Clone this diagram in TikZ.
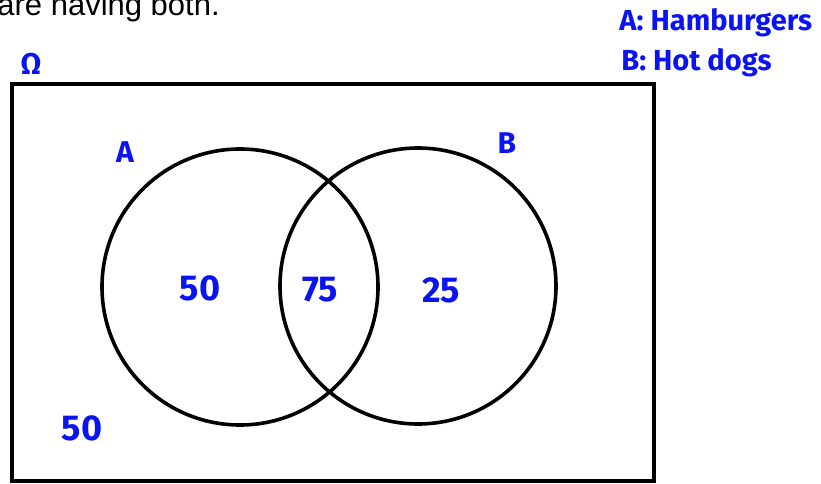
\documentclass[tikz,border=0pt]{standalone}
\usepackage{fontspec}
\setmainfont{Liberation Sans}
\newfontfamily\handfont{Fira Sans}
\usepackage{xcolor}
\definecolor{inkBlue}{HTML}{0A14F0}
\usetikzlibrary{positioning}
\tikzset{
    universe/.style={draw, line width=2pt, inner sep=0pt},
    setcirc/.style={circle, draw, line width=1.8pt, minimum size=138pt, inner sep=0pt},
    ink/.style={inkBlue, font=\handfont\bfseries\fontsize{15}{17}\selectfont, inner sep=0pt},
    bigink/.style={inkBlue, font=\handfont\bfseries\fontsize{18}{20}\selectfont, inner sep=0pt},
    legend/.style={inkBlue, font=\handfont\bfseries\fontsize{14.5}{16}\selectfont, inner sep=0pt, anchor=west},
}

\begin{document}
\begin{tikzpicture}[x=0.5pt, y=-0.5pt]
    \useasboundingbox (0,0) rectangle (821,483);
    \clip (0,0) rectangle (821,483);
    % question text cut off at the top
    \node[anchor=base west, inner sep=0pt, font=\fontsize{15.5}{18}\selectfont] (question) at (-3,15) {are having both.};
    % sample space
    \coordinate (omegaNW) at (12,84);
    \coordinate (omegaSE) at (654,481);
    \draw[universe] (omegaNW) rectangle (omegaSE);
    \node[ink] (omega) at (31,64) {Ω};
    % events A and B
    \node[setcirc] (setA) at (240,287) {};
    \node[setcirc] (setB) at (418,286) {};
    \node[ink] (labA) at (125,152) {A};
    \node[ink] (labB) at (507,143) {B};
    % counts
    \node[bigink] (onlyA) at (200,288) {50};
    \node[bigink] (both) at (320,290) {75};
    \node[bigink] (onlyB) at (441,290) {25};
    \node[bigink] (neither) at (82,428) {50};
    % legend
    \node[legend] (legA) at (619,23) {A:\ Hamburgers};
    \node[legend] (legB) at (621,63) {B:\ Hot dogs};
\end{tikzpicture}
\end{document}
